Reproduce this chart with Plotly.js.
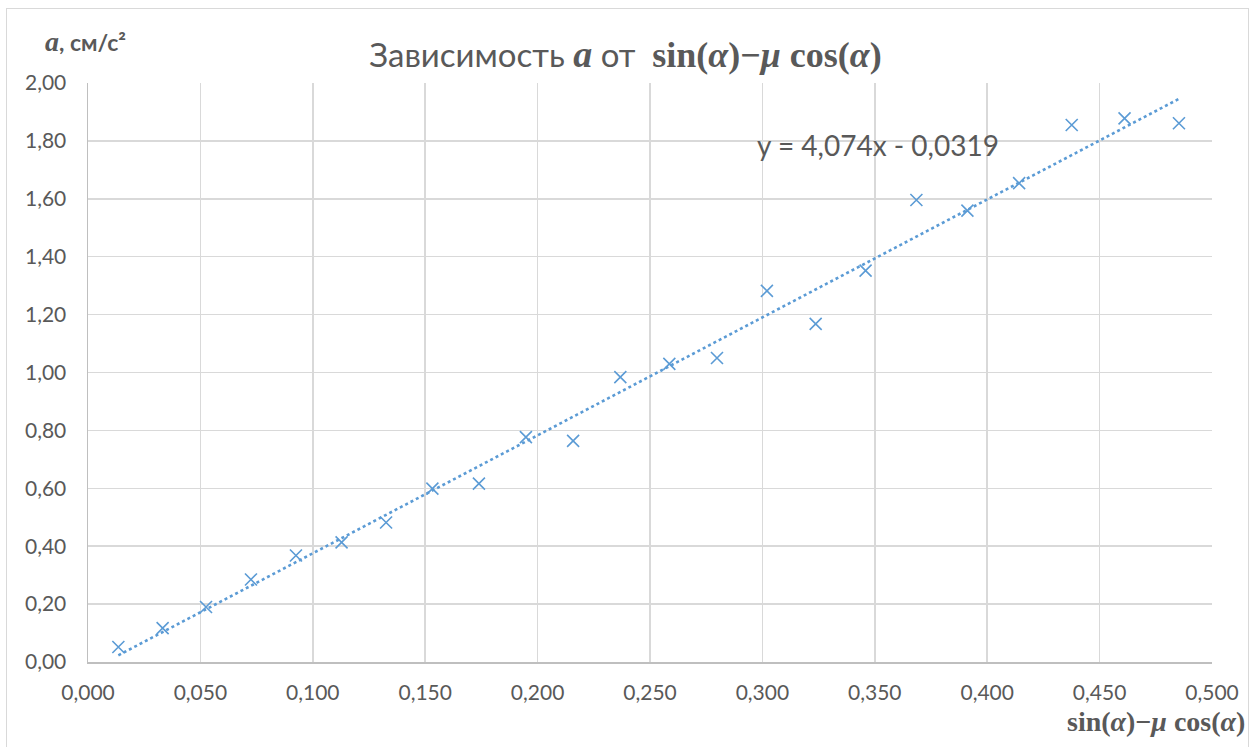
<!DOCTYPE html>
<html><head><meta charset="utf-8">
<script src="https://cdn.plot.ly/plotly-3.0.1.min.js"></script>
<style>
html,body{margin:0;padding:0;background:#fff;}
#wrap{position:relative;width:1251px;height:747px;}
#chart{width:1251px;height:747px;}
#frame{position:absolute;left:6px;top:8px;width:1241px;height:745px;border:1px solid #d9d9d9;pointer-events:none;}
</style></head>
<body>
<div id="wrap"><div id="chart"></div><div id="frame"></div></div>
<script>
const xValues = [0.0135,0.0332,0.0525,0.0725,0.0925,0.1128,0.1326,0.1532,0.1739,0.1948,0.2158,0.2368,0.2586,0.2798,0.3020,0.3237,0.3459,0.3685,0.3912,0.4142,0.4376,0.4611,0.4853];
const aValues = [0.052,0.117,0.190,0.285,0.368,0.413,0.482,0.599,0.616,0.777,0.764,0.984,1.030,1.050,1.282,1.168,1.352,1.596,1.559,1.654,1.855,1.878,1.861];
const slope = 4.074, intercept = -0.0319;
const trendLabel = "y = 4,074x - 0,0319";

const xMin = Math.min(...xValues), xMax = Math.max(...xValues);
const trendX = [xMin, xMax];
const trendY = trendX.map(v => slope*v + intercept);

const blue = '#5b9bd5';
const grey = '#595959';
const mathFont = "'Liberation Serif', 'DejaVu Serif', serif";
const m = (s, sz) => '<span style="font-family:'+mathFont+(sz?';font-size:'+sz+'px':'')+'">'+s+'</span>';

const traces = [
  {x: xValues, y: aValues, mode:'markers', type:'scatter',
   marker:{symbol:'x-thin-open', size:12, color:blue, line:{color:blue, width:1.6}},
   hoverinfo:'x+y', showlegend:false},
  {x: trendX, y: trendY, mode:'lines', type:'scatter',
   line:{color:blue, width:2.6, dash:'dot'}, showlegend:false, hoverinfo:'skip'}
];

const layout = {
  width:1251, height:747,
  paper_bgcolor:'#fff', plot_bgcolor:'#fff',
  separators:', ',
  margin:{l:88, r:39, t:83, b:85},
  font:{family:'Lato, "Open Sans", sans-serif', size:21, color:grey},
  title:{text:'Зависимость '+m('<b><i>a</i></b>', 38)+' от  '+m('<b>sin(<i>α</i>)−<i>μ</i> cos(<i>α</i>)</b>', 36),
         font:{size:33, color:grey, family:'Lato, sans-serif'}, x:0.5, xanchor:'center', y:0.926, yanchor:'middle'},
  xaxis:{range:[0,0.5], dtick:0.05, tick0:0, tickformat:'.3f',
         showgrid:true, gridcolor:'#d9d9d9', gridwidth:1.5,
         showline:true, linecolor:'#bfbfbf', linewidth:1.5,
         zeroline:false, ticks:'outside', ticklen:11, tickcolor:'rgba(0,0,0,0)',
         tickfont:{size:21, color:grey}, fixedrange:true},
  yaxis:{range:[0,2], dtick:0.2, tick0:0, tickformat:'.2f',
         showgrid:true, gridcolor:'#d9d9d9', gridwidth:1.5,
         showline:true, linecolor:'#bfbfbf', linewidth:1.5,
         zeroline:false, ticks:'outside', ticklen:16, tickcolor:'rgba(0,0,0,0)',
         tickfont:{size:21, color:grey}, fixedrange:true},
  annotations:[
    {text:trendLabel, xref:'paper', yref:'paper', x:0.593, y:0.893, xanchor:'left', yanchor:'middle',
     showarrow:false, font:{size:28, color:grey, family:'Lato, sans-serif'}},
    {text:'<b>'+m('<i>a</i>', 28)+', см/с²</b>', xref:'paper', yref:'paper', x:-0.040, y:1.072,
     xanchor:'left', yanchor:'middle', showarrow:false, font:{size:23, color:grey, family:'Lato, sans-serif'}},
    {text:'<b>sin(<i>α</i>)−<i>μ</i> cos(<i>α</i>)</b>', xref:'paper', yref:'paper', x:1.031, y:-0.103,
     xanchor:'right', yanchor:'middle', showarrow:false, font:{size:28, color:grey, family:mathFont}}
  ]
};

Plotly.newPlot('chart', traces, layout, {displayModeBar:false, staticPlot:true});
</script>
</body></html>
